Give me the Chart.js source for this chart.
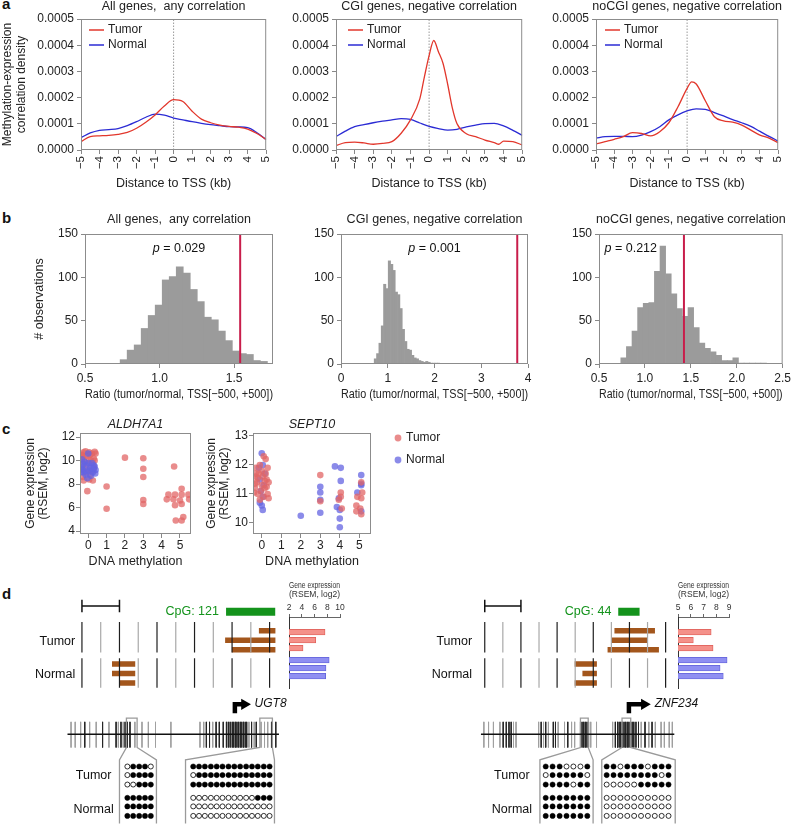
<!DOCTYPE html>
<html>
<head>
<meta charset="utf-8">
<script src="https://cdn.jsdelivr.net/npm/chart.js@4.4.0/dist/chart.umd.min.js"></script>
<style>
  body { margin: 0; width: 794px; height: 830px; position: relative; overflow: hidden; background: #fff;
         font-family: "Liberation Sans", Arial, sans-serif; }
  canvas { position: absolute; }
  .tag { position: absolute; font-weight: bold; font-size: 15px; line-height: 15px; color: #111; }
</style>
</head>
<body>
<div class="tag" style="left:2px;top:-4px">a</div>
<div class="tag" style="left:2px;top:210px">b</div>
<div class="tag" style="left:2px;top:421px">c</div>
<div class="tag" style="left:2px;top:586px">d</div>
<script>
// ---------- panel a : correlation density around TSS ----------
const tssGrid = [-5,-4.5,-4,-3.5,-3,-2.5,-2,-1.5,-1,-0.5,0,0.5,1,1.5,2,2.5,3,3.5,4,4.5,5];
const allTumor = [0.000032,0.000051,0.000054,0.000056,0.00006,0.000067,0.000083,0.000106,0.000134,0.000168,0.000192,0.000185,0.000148,0.000118,0.000104,0.000095,0.00009,0.000087,0.00008,0.000063,0.00004];
const allNormal = [0.000047,0.000065,0.000075,0.000078,0.000082,0.000093,0.000108,0.000125,0.000137,0.000133,0.000122,0.000115,0.000108,0.000102,0.000097,0.000093,0.000089,0.000088,0.000085,0.000066,0.00004];
const cgiTumorX = [-5,-4.5,-4,-3.5,-3,-2.5,-2,-1.5,-1,-0.5,-0.25,0,0.25,0.5,0.75,1,1.25,1.5,2,2.5,3,3.5,3.75,4,4.5,5];
const cgiTumor = [0.000017,0.000028,0.00003,0.000027,0.000022,0.000025,0.000032,0.000064,0.000115,0.000195,0.00028,0.00036,0.000418,0.000375,0.00033,0.00025,0.00016,0.0001,0.000062,0.000051,0.000038,0.000028,0.000022,0.000034,0.000032,0.000019];
const cgiNormal = [0.000051,0.000072,0.000089,0.000097,0.000104,0.00011,0.000115,0.00012,0.000117,0.000103,0.00009,0.000082,0.000076,0.000079,0.000088,0.000095,0.000101,0.000102,0.000092,0.000075,0.000056];
const nocgiTumorX = [-5,-4.5,-4,-3.5,-3,-2.5,-2,-1.5,-1,-0.5,0,0.25,0.5,1,1.5,2,2.5,3,3.5,4,4.5,5];
const nocgiTumor = [0.000023,0.000032,0.000041,0.000051,0.000066,0.000063,0.000054,0.00007,0.000104,0.000165,0.000235,0.00026,0.000252,0.000188,0.000127,0.000111,0.000106,0.000095,0.000076,0.000057,0.000045,0.000028];
const nocgiNormal = [0.000045,0.000051,0.000052,0.000052,0.000051,0.000057,0.00007,0.000089,0.000115,0.000134,0.000149,0.000157,0.000155,0.000143,0.00013,0.000116,0.000104,0.00009,0.000071,0.000052,0.000034];
const aTicksX = [-5,-4,-3,-2,-1,0,1,2,3,4,5];
const aTicksY = [0,0.0001,0.0002,0.0003,0.0004,0.0005];

// ---------- panel b : permutation histograms ----------
const b1Bins = [0.759,0.806,0.853,0.900,0.947,0.994,1.041,1.088,1.135,1.182,1.229,1.276,1.323,1.370,1.417,1.464,1.511,1.558,1.605,1.652,1.699];
const b1Counts = [5,16,22,41,56,68,97,101,112,105,86,72,54,51,38,27,15,12,11,4,3];
const b2Bins = [0.735,0.785,0.835,0.885,0.935,0.985,1.035,1.085,1.135,1.185,1.235,1.285,1.335,1.385,1.435,1.485,1.535,1.585,1.635,1.685,1.735,1.785,1.835,1.885,1.935,1.985,2.035,2.085];
const b2Counts = [6,12,24,44,92,87,119,115,108,83,80,64,40,26,17,16,10,7,6,4,3,2,3,2,1,1,1,1];
const b3Bins = [0.768,0.829,0.890,0.951,1.012,1.073,1.134,1.195,1.256,1.317,1.378,1.439,1.500,1.561,1.622,1.683,1.744,1.805,1.866,1.927,1.988,2.049,2.110,2.171,2.232,2.293];
const b3Counts = [7,20,38,65,70,71,107,136,104,81,64,55,65,42,24,18,14,10,4,4,7,1,1,1,1,1];
const observed = [1.54, 3.77, 1.425];
const pValues = ['0.029', '0.001', '0.212'];
const b1TicksX = [0.5,1.0,1.5];
const b2TicksX = [0,1,2,3,4];
const b3TicksX = [0.5,1.0,1.5,2.0,2.5];
const bTicksY = [0,50,100,150];

// ---------- panel c : expression vs methylation ----------
const aldhTumorX = [-0.35,-0.25,-0.15,0.05,0.2,0.35,-0.3,-0.1,0.1,0.3,-0.35,0.4,-0.2,0.15,-0.05,0.25,-0.3,0.3,0.0,-0.15,0.2,-0.3,0.1,-0.25,0.05,0.25,-0.05,0.35,-0.4,0.0,1,1,2,3,3,3,3,3,4.68,5.09,4.37,4.73,5.09,5.46,4.28,4.64,5.0,5.5,4.73,5.09,5.18,4.77,5.09];
const aldhTumorY = [10.5,10.7,10.8,10.7,10.6,10.75,10.3,10.4,10.5,10.2,10.1,10.6,9.9,10.0,9.7,9.8,9.5,9.4,9.2,9.0,9.1,8.6,8.8,8.3,8.4,8.3,7.4,10.0,10.5,10.2,7.8,5.9,10.25,10.2,9.3,8.6,6.65,6.3,9.5,7.6,7.1,7.1,7.1,7.1,6.7,6.7,6.6,6.7,6.2,6.3,5.2,4.9,4.9];
const aldhNormalX = [-0.35,0.0,-0.2,0.2,0.35,-0.35,-0.3,-0.1,0.1,0.3,-0.25,0.05,0.25,0.38,-0.38,-0.15,0.15,-0.05,0.3,-0.3,0.0,0.4,-0.4,0.2,-0.1];
const aldhNormalY = [10.1,10.6,9.9,9.8,9.5,9.3,9.2,9.6,9.4,9.3,9.0,9.1,9.0,8.9,9.5,8.8,8.7,8.5,9.6,9.7,9.8,9.2,9.0,9.3,9.1];
const septTumorX = [-0.3,0.1,0.2,-0.1,0.3,-0.35,-0.15,0.05,0.25,-0.25,0.0,0.35,-0.35,-0.05,0.15,0.3,-0.2,0.1,-0.4,0.35,-0.1,0.2,-0.3,0.0,0.15,-0.2,0.25,-0.35,3,3,4.05,4.05,3.95,4.1,5.1,5.15,4.9,5.1,4.85,5.05,4.85,5.1];
const septTumorY = [11.7,12.3,12.2,12.0,11.9,11.6,11.7,11.6,11.5,11.4,11.3,11.4,11.2,11.1,11.2,11.0,11.0,10.9,11.05,10.85,10.8,11.7,11.9,11.8,11.45,11.55,11.25,11.35,11.65,10.75,11.05,10.9,10.8,10.5,11.4,11.05,10.9,10.85,10.6,10.5,10.4,10.3];
const septNormalX = [0.0,0.05,-0.1,0.15,0.1,-0.05,0.05,-0.1,0.0,0.05,-0.15,2,3,3,3,3,3.75,4.05,4.05,3.95,3.85,4.0,4.0,4.0,5.1,5.1,4.9,5.1,5.1];
const septNormalY = [12.4,12.0,11.5,11.7,11.3,11.1,10.9,10.7,10.6,10.45,11.9,10.25,11.25,11.05,10.8,10.35,11.95,11.9,11.45,10.85,10.55,10.45,10.15,9.85,11.65,11.35,11.05,10.4,11.3];
const cTicksX = [0,1,2,3,4,5];
const aldhTicksY = [4,6,8,10,12];
const septTicksY = [10,11,12,13];

// ---------- panel d : loci (x in track-grid units) ----------
const trackDark = [0,2,4,6,8,10];
const trackLight = [1,3,5,7,9];
const scaleBar = [0, 2];
const ugtCpG = [7.68, 10.3];
const ugtTumorMeth = [[9.43,10.31],[7.63,10.31],[7.99,10.31]];
const ugtNormalMeth = [[1.6,2.84],[1.6,2.84],[2.0,2.84]];
const ugtTumorExpr = [7.65, 6.2, 4.2];
const ugtNormalExpr = [8.3, 7.8, 7.75];
const ugtSpan = [-0.77, 10.5];
const ugtTss = [8.15, 8.66];
const ugtSitesDark = [0.15,1.10,1.82,2.08,2.30,2.42,2.56,6.63,6.80,7.15,7.32,7.53,7.70,7.80,7.90,8.01,8.09,8.18,8.26,8.35,8.44,8.52,8.61,8.70,8.78,9.04,9.29,10.10,10.33];
const ugtSitesLight = [-0.58,-0.36,-0.07,0.41,0.76,1.44,1.94,2.20,2.82,3.20,3.54,3.92,4.74,6.29,6.49,6.97,8.90,9.18,9.55,9.73,9.90];
const ugtBoxA = [2.37,2.94,2.0,3.97];
const ugtBoxB = [9.48,10.15,5.52,10.26];
const ugtColsA = [2.42,2.73,3.05,3.36,3.67];
const ugtColsB = [5.93,6.24,6.55,6.87,7.18,7.49,7.81,8.12,8.43,8.75,9.06,9.37,9.69,10.0];
const ugtReadsA = ['01110','01111','00111','11111','11111','11111'];
const ugtReadsB = ['11111111111111','01111111111111','11111111111111','00000000000111','00000000000000','00000000000000'];

const znfCpG = [7.38, 8.56];
const znfTumorMeth = [[7.17,9.41],[7.0,8.98],[6.79,9.63]];
const znfNormalMeth = [[4.97,6.2],[5.4,6.2],[4.97,6.2]];
const znfTumorExpr = [7.6, 6.2, 7.75];
const znfNormalExpr = [8.85, 8.3, 8.55];
const znfSpan = [-0.21, 10.48];
const znfTss = [7.97, 8.82];
const znfSitesDark = [1.02,1.19,1.34,1.46,3.12,3.37,3.79,3.91,4.59,5.38,5.47,5.56,5.65,5.74,7.22,7.34,7.43,7.52,7.61,7.70,7.79,7.88,7.97,8.06,8.15,8.24,8.36,8.50,8.86,9.25];
const znfSitesLight = [-0.05,0.21,0.48,0.84,1.59,1.73,2.98,3.25,3.52,4.06,4.41,4.80,4.97,5.29,5.86,6.18,7.07,8.65,9.07,9.43,9.75,9.93,10.20,10.37];
const znfBoxA = [5.29,5.72,3.05,5.99];
const znfBoxB = [7.59,8.07,6.47,10.53];
const znfColsA = [3.37,3.75,4.14,4.52,4.90,5.29,5.67];
const znfColsB = [6.74,7.12,7.50,7.88,8.26,8.64,9.02,9.40,9.78,10.16];
const znfReadsA = ['1110001','0111110','1111011','1111111','1111111','1111111'];
const znfReadsB = ['1101110111','1111111101','0000011111','0000000000','0000000000','0000000000'];
const exprTicksUgt = [2,4,6,8,10];
const exprTicksZnf = [5,6,7,8,9];

// ---------- styling / layout ----------
const FONT = '"Liberation Sans", Arial, Helvetica, sans-serif';
const RED = '#e2372c', BLUE = '#2b2bd4', CRIMSON = '#c81d4b';
const PT_T = 'rgba(226,102,102,0.75)', PT_N = 'rgba(100,100,226,0.75)';
const BROWN = '#a3561c', GREEN = '#14931c';
const FRAME = '#8c8c8c';
// y rows of panel d (10 px per unit from the top of the panel)
const rowsT = [5.7, 6.7, 7.7], rowsN = [9.2, 10.2, 11.2];
const trackT = [4.8, 8.0], trackN = [8.6, 11.7];
const readRows = [20.0, 20.9, 21.9, 23.3, 24.2, 25.2];

Chart.defaults.font.family = FONT;
Chart.defaults.font.size = 12;
Chart.defaults.color = '#222';
Chart.defaults.animation = false;
Chart.defaults.responsive = false;
Chart.defaults.events = [];
Chart.defaults.plugins.legend.display = false;
Chart.defaults.plugins.tooltip.enabled = false;

Chart.register({
  id: 'frame',
  afterDatasetsDraw(chart, args, o) {
    if (!o || !o.color) return;
    const a = chart.chartArea, ctx = chart.ctx;
    ctx.save();
    ctx.strokeStyle = o.color; ctx.lineWidth = 1;
    ctx.strokeRect(a.left + 0.5, a.top + 0.5, a.right - a.left - 1, a.bottom - a.top - 1);
    ctx.restore();
  }
}, {
  id: 'heading',
  afterDraw(chart, args, o) {
    if (!o || !o.text) return;
    const a = chart.chartArea, ctx = chart.ctx;
    ctx.save();
    ctx.font = (o.italic ? 'italic ' : '') + (o.size || 12.5) + 'px ' + FONT;
    ctx.fillStyle = '#222'; ctx.textAlign = 'center'; ctx.textBaseline = 'middle';
    ctx.fillText(o.text, (a.left + a.right) / 2, a.top - o.dy);
    ctx.restore();
  }
}, {
  id: 'notes',
  afterDatasetsDraw(chart, args, o) {
    if (!o || !o.items) return;
    const ctx = chart.ctx, sx = chart.scales.x, sy = chart.scales.y;
    o.items.forEach(it => {
      const parts = it.parts || [{t: it.text}];
      const fontOf = p => ((p.italic || it.italic) ? 'italic ' : '') + (it.size || 12) + 'px ' + FONT;
      ctx.save();
      ctx.fillStyle = it.color || '#111'; ctx.textBaseline = 'middle'; ctx.textAlign = 'left';
      let w = 0;
      parts.forEach(p => { ctx.font = fontOf(p); w += ctx.measureText(p.t).width; });
      let x = sx.getPixelForValue(it.x);
      const y = sy.getPixelForValue(it.y);
      if (it.align === 'center') x -= w / 2; else if (it.align === 'right') x -= w;
      parts.forEach(p => { ctx.font = fontOf(p); ctx.fillText(p.t, x, y); x += ctx.measureText(p.t).width; });
      ctx.restore();
    });
  }
}, {
  id: 'keys',
  afterDatasetsDraw(chart, args, o) {
    if (!o || !o.items) return;
    const a = chart.chartArea, ctx = chart.ctx;
    o.items.forEach((it, i) => {
      const x = a.left + o.x0, y = a.top + o.y0 + i * o.gap;
      ctx.save();
      if (o.kind === 'dot') {
        ctx.fillStyle = it.color; ctx.beginPath(); ctx.arc(x, y, 3.4, 0, Math.PI * 2); ctx.fill();
      } else {
        ctx.strokeStyle = it.color; ctx.lineWidth = 1.5;
        ctx.beginPath(); ctx.moveTo(x, y); ctx.lineTo(x + o.len, y); ctx.stroke();
      }
      ctx.fillStyle = '#222'; ctx.font = '12px ' + FONT; ctx.textBaseline = 'middle';
      ctx.fillText(it.label, x + o.tx, y);
      ctx.restore();
    });
  }
});

function mk(r) {
  const c = document.createElement('canvas');
  c.width = r.w; c.height = r.h;
  c.style.left = r.x + 'px'; c.style.top = r.y + 'px';
  c.style.width = r.w + 'px'; c.style.height = r.h + 'px';
  document.body.appendChild(c);
  return c;
}
function geo(r, a) {
  return { padding: {left: 0, top: a.T - r.y, right: r.x + r.w - a.R, bottom: 0},
           yW: a.L - r.x, xH: r.y + r.h - a.B };
}
const pts = (xs, ys) => xs.map((x, i) => ({x, y: ys[i]}));
const tickMarks = {drawOnChartArea: false, tickLength: 4, color: '#888'};
const minus = v => (v < 0 ? '\u2212' + (-v) : String(v));

// ---- panel a ----
function densityBox(r, area, title, tx, ty, nx, ny, yTitle, legX) {
  const g = geo(r, area);
  return new Chart(mk(r), {
    type: 'line',
    data: { datasets: [
      {data: pts(tx, ty), borderColor: RED, borderWidth: 1.3, pointRadius: 0, cubicInterpolationMode: 'monotone'},
      {data: pts(nx, ny), borderColor: BLUE, borderWidth: 1.3, pointRadius: 0, cubicInterpolationMode: 'monotone'},
      {data: [{x: 0, y: 0}, {x: 0, y: 0.0005}], borderColor: '#9a9a9a', borderWidth: 1, borderDash: [1.5, 1.5], pointRadius: 0, order: 2}
    ]},
    options: {
      devicePixelRatio: 1,
      layout: {padding: g.padding},
      scales: {
        x: {type: 'linear', min: -5, max: 5,
            afterFit: s => { s.height = g.xH; },
            afterBuildTicks: s => { s.ticks = aTicksX.map(v => ({value: v})); },
            ticks: {minRotation: 90, maxRotation: 90, padding: 2, font: {size: 11.5}, callback: v => minus(v)},
            grid: tickMarks, border: {display: false},
            title: {display: true, text: 'Distance to TSS (kb)', font: {size: 12.5}, padding: {top: 0, bottom: 4.5}}},
        y: {min: 0, max: 0.0005,
            afterFit: s => { s.width = g.yW; },
            afterBuildTicks: s => { s.ticks = aTicksY.map(v => ({value: v})); },
            ticks: {padding: 3, callback: v => v.toFixed(4)},
            grid: tickMarks, border: {display: false},
            title: yTitle ? {display: true, text: yTitle, font: {size: 12, lineHeight: 1.1}, padding: {top: 1.5, bottom: 0}} : {display: false}}
      },
      plugins: {
        frame: {color: FRAME},
        heading: {text: title, dy: 12.5},
        keys: {x0: legX, y0: 11, gap: 15, len: 15, tx: 19, items: [{label: 'Tumor', color: RED}, {label: 'Normal', color: BLUE}]}
      }
    }
  });
}
densityBox({x: 0, y: 0, w: 282, h: 196}, {L: 81, T: 19, R: 270, B: 150}, 'All genes,  any correlation',
  tssGrid, allTumor, tssGrid, allNormal, ['Methylation-expression', 'correlation density'], 8);
densityBox({x: 282, y: 0, w: 256, h: 196}, {L: 336, T: 19, R: 529, B: 150}, 'CGI genes, negative correlation',
  cgiTumorX, cgiTumor, tssGrid, cgiNormal, null, 12);
densityBox({x: 538, y: 0, w: 256, h: 196}, {L: 596, T: 19, R: 785, B: 150}, 'noCGI genes, negative correlation',
  nocgiTumorX, nocgiTumor, tssGrid, nocgiNormal, null, 9);

// ---- panel b ----
function histBox(r, area, title, bins, counts, red, xr, xt, fmt, pv, pPos, yTitle) {
  const g = geo(r, area);
  return new Chart(mk(r), {
    type: 'bar',
    data: { datasets: [
      {type: 'line', data: [{x: red, y: 0}, {x: red, y: 150}], borderColor: CRIMSON, borderWidth: 2, pointRadius: 0, order: 1},
      {type: 'bar', data: pts(bins, counts), backgroundColor: '#9b9b9b', barPercentage: 1, categoryPercentage: 1, borderWidth: 0, order: 2}
    ]},
    options: {
      devicePixelRatio: 1,
      layout: {padding: g.padding},
      scales: {
        x: {type: 'linear', min: xr[0], max: xr[1], offset: false,
            afterFit: s => { s.height = g.xH; },
            afterBuildTicks: s => { s.ticks = xt.map(v => ({value: v})); },
            ticks: {padding: 3, maxRotation: 0, callback: fmt},
            grid: Object.assign({offset: false}, tickMarks), border: {display: false},
            title: {display: true, text: 'Ratio (tumor/normal, TSS[\u2212500, +500])', font: {size: 12.5}, padding: {top: 0, bottom: 2.5}}},
        y: {min: 0, max: 150,
            afterFit: s => { s.width = g.yW; },
            afterBuildTicks: s => { s.ticks = bTicksY.map(v => ({value: v})); },
            ticks: {padding: 3},
            grid: tickMarks, border: {display: false},
            title: yTitle ? {display: true, text: yTitle, font: {size: 12.5}, padding: {top: 32.5, bottom: 0}} : {display: false}}
      },
      plugins: {
        frame: {color: FRAME},
        heading: {text: title, dy: 14},
        notes: {items: [{x: pPos[0], y: pPos[1], align: pPos[2], size: 12.5, parts: [{t: 'p', italic: true}, {t: ' = ' + pv}]}]}
      }
    }
  });
}
histBox({x: 0, y: 205, w: 282, h: 200}, {L: 85, T: 234, R: 273, B: 364}, 'All genes,  any correlation',
  b1Bins, b1Counts, observed[0], [0.5, 1.76], b1TicksX, v => v.toFixed(1), pValues[0], [1.13, 133, 'center'], '# observations');
histBox({x: 282, y: 205, w: 256, h: 200}, {L: 341, T: 234, R: 528, B: 364}, 'CGI genes, negative correlation',
  b2Bins, b2Counts, observed[1], [0, 4], b2TicksX, v => String(v), pValues[1], [2.0, 133, 'center'], null);
histBox({x: 538, y: 205, w: 256, h: 200}, {L: 599, T: 234, R: 786, B: 364}, 'noCGI genes, negative correlation',
  b3Bins, b3Counts, observed[2], [0.5, 2.5], b3TicksX, v => v.toFixed(1), pValues[2], [0.56, 133, 'left'], null);

// ---- panel c ----
function dotsBox(r, area, gene, sets, yr, yt, yPad, legend) {
  const g = geo(r, area);
  return new Chart(mk(r), {
    type: 'scatter',
    data: { datasets: sets.map(s => ({data: pts(s.x, s.y), backgroundColor: s.c, borderWidth: 0, pointRadius: 3.3})) },
    options: {
      devicePixelRatio: 1,
      layout: {padding: g.padding},
      scales: {
        x: {type: 'linear', min: -0.45, max: 5.6,
            afterFit: s => { s.height = g.xH; },
            afterBuildTicks: s => { s.ticks = cTicksX.map(v => ({value: v})); },
            ticks: {padding: 0, maxRotation: 0},
            grid: tickMarks, border: {display: false},
            title: {display: true, text: 'DNA methylation', font: {size: 12.5}, padding: {top: 0, bottom: 5.5}}},
        y: {min: yr[0], max: yr[1],
            afterFit: s => { s.width = g.yW; },
            afterBuildTicks: s => { s.ticks = yt.map(v => ({value: v})); },
            ticks: {padding: 1},
            grid: tickMarks, border: {display: false},
            title: {display: true, text: ['Gene expression', '(RSEM, log2)'], font: {size: 12, lineHeight: 1.05}, padding: {top: yPad, bottom: 0}}}
      },
      plugins: {
        frame: {color: FRAME},
        heading: {text: gene, dy: 8, italic: true},
        keys: legend || {}
      }
    }
  });
}
dotsBox({x: 0, y: 405, w: 200, h: 170}, {L: 80, T: 433, R: 191, B: 534}, 'ALDH7A1',
  [{x: aldhNormalX, y: aldhNormalY, c: PT_N}, {x: aldhTumorX, y: aldhTumorY, c: PT_T}], [3.75, 12.35], aldhTicksY, 24.5, null);
dotsBox({x: 200, y: 405, w: 270, h: 170}, {L: 253, T: 433, R: 371, B: 534}, 'SEPT10',
  [{x: septTumorX, y: septTumorY, c: PT_T}, {x: septNormalX, y: septNormalY, c: PT_N}], [9.62, 13.1], septTicksY, 5.5,
  {kind: 'dot', x0: 145, y0: 5, gap: 22, tx: 8, items: [{label: 'Tumor', color: PT_T}, {label: 'Normal', color: PT_N}]});

// ---- panel d ----
function segs(list) {
  const out = [];
  list.forEach(s => out.push({x: s[0], y: s[1]}, {x: s[2], y: s[3]}, {x: s[2], y: null}));
  return out;
}
function reads(cols, patterns, want) {
  const out = [];
  patterns.forEach((p, ri) => cols.forEach((x, ci) => { if (p[ci] === want) out.push({x, y: readRows[ri]}); }));
  return out;
}
function boxLine(b) {
  return [{x: b[2], y: 26.5}, {x: b[2], y: 19.3}, {x: b[0], y: 18.0}, {x: b[0], y: 14.9},
          {x: b[1], y: 14.9}, {x: b[1], y: 18.0}, {x: b[3], y: 19.3}, {x: b[3], y: 26.5}, {x: b[3], y: null}];
}
function locus(r, px0, px10, L) {
  const unit = (px10 - px0) / 10;
  const line = (data, color, width, order) => ({data, borderColor: color, borderWidth: width, pointRadius: 0, order: order || 1});
  const sites = list => segs(list.map(u => [u, 15.3, u, 18.0]));
  const tracks = list => segs(list.flatMap(u => [[u, trackT[0], u, trackT[1]], [u, trackN[0], u, trackN[1]]]));
  const meth = L.tMeth.map((m, i) => [m[0], rowsT[i], m[1], rowsT[i]])
    .concat(L.nMeth.map((m, i) => [m[0], rowsN[i], m[1], rowsN[i]]));
  const sb = 3.1;
  return new Chart(mk(r), {
    type: 'line',
    data: { datasets: [
      line(tracks(trackDark), '#1e1e1e', 1.2),
      line(tracks(trackLight), '#a8a8a8', 1.2),
      line(segs(meth), BROWN, 5.5, 5),
      line(segs([[L.cpg[0], 3.7, L.cpg[1], 3.7]]), GREEN, 8, 5),
      line(segs([[scaleBar[0], sb, scaleBar[1], sb], [scaleBar[0], sb - 0.65, scaleBar[0], sb + 0.65], [scaleBar[1], sb - 0.65, scaleBar[1], sb + 0.65]]), '#111', 1.5),
      line(sites(L.light), '#a0a0a0', 1, 3),
      line(sites(L.dark), '#262626', 1, 2),
      line(segs([[L.span[0], 16.6, L.span[1], 16.6]]), '#111', 1.5),
      line([{x: L.tss[0], y: 14.4}, {x: L.tss[0], y: 13.45}, {x: L.tss[1], y: 13.45}], '#000', 4.5),
      {data: [{x: L.tss[1], y: 13.45}], showLine: false, pointStyle: 'triangle', pointRotation: 90, pointRadius: 6.5,
       pointBackgroundColor: '#000', pointBorderWidth: 0},
      line(boxLine(L.boxA).concat(boxLine(L.boxB)), '#9a9a9a', 1.3),
      {data: reads(L.colsA, L.readsA, '1').concat(reads(L.colsB, L.readsB, '1')), showLine: false, pointRadius: 2.6,
       pointBackgroundColor: '#000', pointBorderColor: '#000', pointBorderWidth: 0.5},
      {data: reads(L.colsA, L.readsA, '0').concat(reads(L.colsB, L.readsB, '0')), showLine: false, pointRadius: 2.5,
       pointBackgroundColor: '#fff', pointBorderColor: '#000', pointBorderWidth: 0.8}
    ]},
    options: {
      devicePixelRatio: 1,
      layout: {padding: 0},
      scales: {
        x: {type: 'linear', display: false, min: (r.x - px0) / unit, max: (r.x + r.w - px0) / unit},
        y: {type: 'linear', display: false, min: 0, max: 26, reverse: true}
      },
      plugins: { notes: { items: [
        {x: L.cpgText, y: 3.7, text: L.cpgLabel, color: GREEN, align: 'right', size: 12.5},
        {x: L.trackX, y: 6.8, text: 'Tumor', align: 'right', size: 12.5},
        {x: L.trackX, y: 10.3, text: 'Normal', align: 'right', size: 12.5},
        {x: L.geneX, y: 13.4, text: L.gene, italic: true, size: 12},
        {x: L.readX, y: 21.0, text: 'Tumor', align: 'center', size: 12.5},
        {x: L.readX, y: 24.5, text: 'Normal', align: 'center', size: 12.5}
      ]}}
    }
  });
}
locus({x: 0, y: 570, w: 397, h: 260}, 78, 272, {
  cpg: ugtCpG, cpgLabel: 'CpG: 121', cpgText: 7.3, tMeth: ugtTumorMeth, nMeth: ugtNormalMeth,
  span: ugtSpan, tss: ugtTss, gene: 'UGT8', geneX: 9.2, dark: ugtSitesDark, light: ugtSitesLight,
  boxA: ugtBoxA, boxB: ugtBoxB, colsA: ugtColsA, colsB: ugtColsB, readsA: ugtReadsA, readsB: ugtReadsB,
  trackX: -0.36, readX: 0.62});
locus({x: 397, y: 570, w: 397, h: 260}, 481, 668, {
  cpg: znfCpG, cpgLabel: 'CpG: 44', cpgText: 7.0, tMeth: znfTumorMeth, nMeth: znfNormalMeth,
  span: znfSpan, tss: znfTss, gene: 'ZNF234', geneX: 9.4, dark: znfSitesDark, light: znfSitesLight,
  boxA: znfBoxA, boxB: znfBoxB, colsA: znfColsA, colsB: znfColsB, readsA: znfReadsA, readsB: znfReadsB,
  trackX: -0.7, readX: 1.5});

function exprBox(r, area, ticks, tVals, nVals) {
  const pad = {left: 0, top: 0, right: r.x + r.w - area.R, bottom: r.y + r.h - area.B};
  const yW = area.L - r.x, xH = area.T - r.y;
  const rows = rowsT.concat(rowsN), vals = tVals.concat(nVals);
  return new Chart(mk(r), {
    type: 'bar',
    data: { datasets: [{
      data: rows.map((y, i) => ({x: vals[i], y})),
      backgroundColor: rows.map((_, i) => (i < 3 ? '#f4918a' : '#8f8ff2')),
      borderColor: rows.map((_, i) => (i < 3 ? '#de5b55' : '#5f5fd8')),
      borderWidth: 0.8, barThickness: 5.5
    }]},
    options: {
      devicePixelRatio: 1,
      indexAxis: 'y',
      layout: {padding: pad},
      scales: {
        x: {type: 'linear', position: 'top', min: ticks[0], max: ticks[ticks.length - 1],
            afterFit: s => { s.height = xH; },
            afterBuildTicks: s => { s.ticks = ticks.map(v => ({value: v})); },
            ticks: {font: {size: 8.5}, padding: 1, color: '#333', maxRotation: 0},
            grid: {drawOnChartArea: false, tickLength: 3, color: '#666'},
            border: {color: '#666'},
            title: {display: true, text: ['Gene expression', '(RSEM, log2)'], color: '#333',
                    font: {size: 8.5, lineHeight: 1.05}, padding: {top: 5.4, bottom: 0}}},
        y: {type: 'linear', min: 4.7, max: 11.8, reverse: true,
            afterFit: s => { s.width = yW; },
            ticks: {display: false}, grid: {display: false, drawTicks: false},
            border: {display: true, color: '#333'}}
      }
    }
  });
}
exprBox({x: 270, y: 576, w: 80, h: 114}, {L: 289, T: 617, R: 340, B: 688}, exprTicksUgt, ugtTumorExpr, ugtNormalExpr);
exprBox({x: 659, y: 576, w: 80, h: 114}, {L: 678, T: 617, R: 729, B: 688}, exprTicksZnf, znfTumorExpr, znfNormalExpr);
</script>
</body>
</html>
